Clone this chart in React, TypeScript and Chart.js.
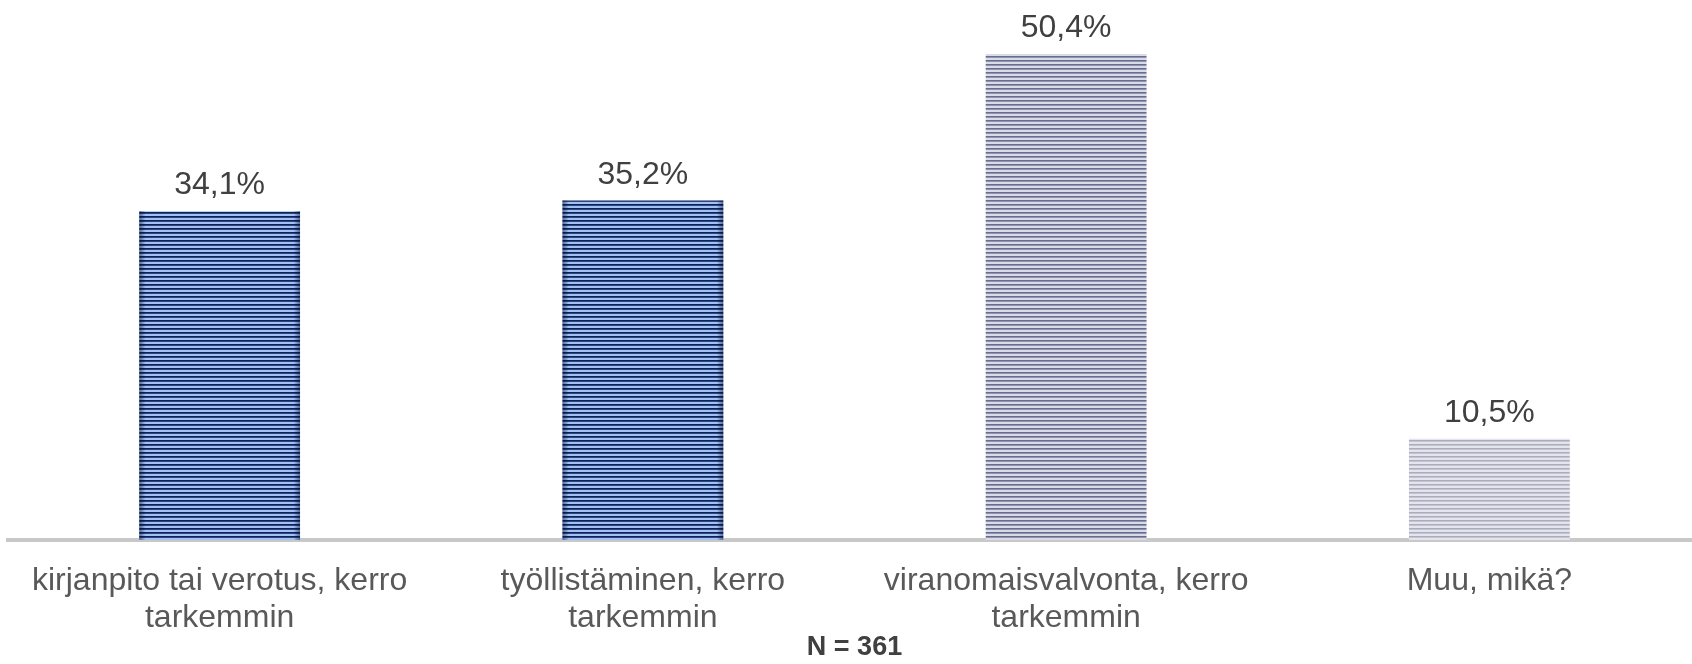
import React, { useEffect, useRef } from "react";
import { Chart, registerables } from "chart.js";
Chart.register(...registerables);

const categories: string[][] = [
  ["kirjanpito tai verotus, kerro", "tarkemmin"],
  ["työllistäminen, kerro", "tarkemmin"],
  ["viranomaisvalvonta, kerro", "tarkemmin"],
  ["Muu, mikä?"],
];
const values = [34.1, 35.2, 50.4, 10.5];
const valueLabels = ["34,1%", "35,2%", "50,4%", "10,5%"];
const stripeDark = ["#0c2259", "#0c2259", "#676c8e", "#aaacbd"];
const stripeMid = ["#2c4682", "#2c4682", "#9094af", "#c3c5d2"];
const stripeLight = ["#a3c0f2", "#a3c0f2", "#d9dbe7", "#e3e4ec"];
const edgeShade = ["rgba(5,20,70,0.5)", "rgba(5,20,70,0.5)", "rgba(0,0,0,0)", "rgba(0,0,0,0)"];
const nLabel = "N = 361";

const FONT = "'Liberation Sans', Arial, Helvetica, sans-serif";

function makePattern(dark: string, mid: string, light: string): CanvasPattern | string {
  const c = document.createElement("canvas");
  c.width = 4;
  c.height = 4;
  const g = c.getContext("2d");
  if (!g) return dark;
  g.fillStyle = light;
  g.fillRect(0, 0, 4, 4);
  g.fillStyle = dark;
  g.fillRect(0, 0, 4, 1);
  g.fillStyle = mid;
  g.fillRect(0, 1, 4, 1);
  const p = g.createPattern(c, "repeat");
  return p || dark;
}

export default function App() {
  const ref = useRef<HTMLCanvasElement | null>(null);
  useEffect(() => {
    if (!ref.current) return;
    const patterns = values.map((_, i) => makePattern(stripeDark[i], stripeMid[i], stripeLight[i]));
    const labelsPlugin = {
      id: "valueLabels",
      afterDatasetsDraw(chart: any) {
        const ctx = chart.ctx;
        const meta = chart.getDatasetMeta(0);
        ctx.save();
        meta.data.forEach((bar: any, i: number) => {
          const w = bar.width;
          const left = bar.x - w / 2;
          const grad = ctx.createLinearGradient(left, 0, left + w, 0);
          grad.addColorStop(0, edgeShade[i]);
          grad.addColorStop(0.04, "rgba(0,0,0,0)");
          grad.addColorStop(0.96, "rgba(0,0,0,0)");
          grad.addColorStop(1, edgeShade[i]);
          ctx.fillStyle = grad;
          ctx.fillRect(left, bar.y, w, bar.base - bar.y);
        });
        ctx.fillStyle = "#404040";
        ctx.font = `32px ${FONT}`;
        ctx.textAlign = "center";
        ctx.textBaseline = "alphabetic";
        meta.data.forEach((bar: any, i: number) => {
          ctx.fillText(valueLabels[i], bar.x, bar.y - 17);
        });
        ctx.restore();
      },
    };
    const chart = new Chart(ref.current, {
      type: "bar",
      data: {
        labels: categories,
        datasets: [
          {
            data: values,
            backgroundColor: patterns as any,
            borderWidth: 0,
            categoryPercentage: 1,
            barPercentage: 0.38,
          },
        ],
      },
      options: {
        responsive: false,
        animation: false,
        devicePixelRatio: 1,
        layout: { padding: { left: 8, right: 9, top: 0, bottom: 0 } },
        plugins: {
          legend: { display: false },
          tooltip: { enabled: false },
          title: {
            display: true,
            position: "bottom",
            text: nLabel,
            color: "#404040",
            font: { family: FONT, size: 27, weight: "bold", lineHeight: 1.2 },
            padding: { top: 0, bottom: 0 },
          },
        },
        scales: {
          x: {
            grid: { display: false, drawTicks: false },
            border: { display: true, color: "#c8c8c8", width: 4 },
            ticks: {
              color: "#595959",
              font: { family: FONT, size: 32, lineHeight: 1.17 },
              padding: 22,
              maxRotation: 0,
              minRotation: 0,
              autoSkip: false,
            },
            afterFit(scale: any) {
              scale.height = 91.6;
            },
          },
          y: {
            display: false,
            min: 0,
            max: 56,
          },
        },
      },
      plugins: [labelsPlugin],
    });
    return () => chart.destroy();
  }, []);
  return (
    <div
      style={{
        position: "absolute",
        left: 0,
        top: 0,
        width: 1692,
        height: 664,
        overflow: "hidden",
        background: "#ffffff",
      }}
    >
      <canvas ref={ref} width={1710} height={664} style={{ display: "block" }} />
    </div>
  );
}
